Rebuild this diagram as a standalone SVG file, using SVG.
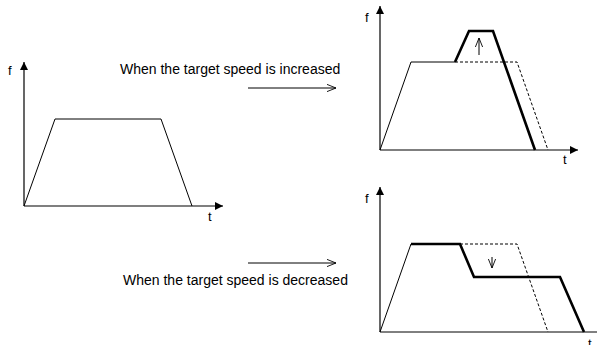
<svg xmlns="http://www.w3.org/2000/svg" width="597" height="345" viewBox="0 0 597 345">
<defs>
<marker id="ah" viewBox="0 0 10 10" refX="10" refY="5" markerWidth="8" markerHeight="8" markerUnits="userSpaceOnUse" orient="auto"><path d="M0,0 L10,5 L0,10 z" fill="#000"/></marker>
<marker id="oa" viewBox="0 0 10 10" refX="10" refY="5" markerWidth="9" markerHeight="9" markerUnits="userSpaceOnUse" orient="auto"><path d="M0,1 L10,5 L0,9" fill="none" stroke="#000" stroke-width="1"/></marker>
<style>
.ax{stroke:#000;stroke-width:1.2;fill:none;marker-end:url(#ah)}
.th{stroke:#000;stroke-width:1;fill:none}
.bd{stroke:#000;stroke-width:2.6;fill:none;stroke-linejoin:miter}
.ds{stroke:#000;stroke-width:1;fill:none;stroke-dasharray:3,2}
.lb{font-family:"Liberation Sans",Arial,sans-serif;font-size:13px;fill:#000}
.tx{font-family:"Liberation Sans",Arial,sans-serif;font-size:14px;fill:#000}
.pa{stroke:#000;stroke-width:1;fill:none;marker-end:url(#oa)}
</style>
</defs>
<g id="chart-base">
<line class="ax" x1="24" y1="206" x2="24" y2="62"/>
<line class="ax" x1="24" y1="206" x2="223" y2="206"/>
<polyline class="th" points="24,206 55,119 161,119 192,206"/>
<text class="lb" x="8" y="75">f</text>
<text class="lb" x="208" y="221">t</text>
</g>
<g id="chart-increase">
<line class="ax" x1="380" y1="150" x2="380" y2="6"/>
<line class="ax" x1="380" y1="150" x2="578" y2="150"/>
<polyline class="th" points="380,150 411,62 455,62"/>
<polyline class="bd" points="455,62 469,31 493,31 535,150"/>
<polyline class="ds" points="455,62 517,62 548,150"/>
<text class="lb" x="365" y="22">f</text>
<text class="lb" x="563" y="164">t</text>
</g>
<g id="chart-decrease">
<line class="ax" x1="380" y1="332" x2="380" y2="187"/>
<line class="th" x1="380" y1="332" x2="597" y2="332" stroke-width="1.2"/>
<polyline class="th" points="380,332 411,244"/>
<polyline class="bd" points="411,244 460,244 474,277 560,277 584,332"/>
<polyline class="ds" points="460,244 517,244 548,332"/>
<text class="lb" x="365" y="203">f</text>
<text class="lb" x="588" y="348">t</text>
</g>
<g id="connectors">
<line class="pa" x1="248" y1="88" x2="336" y2="88"/>
<line class="pa" x1="248" y1="263" x2="336" y2="263"/>
<line class="pa" x1="479" y1="55" x2="479" y2="38"/>
<line class="pa" x1="492" y1="257" x2="492" y2="268"/>
</g>
<g id="labels">
<text class="tx" x="120" y="74">When the target speed is increased</text>
<text class="tx" x="123" y="285">When the target speed is decreased</text>
</g>
</svg>
